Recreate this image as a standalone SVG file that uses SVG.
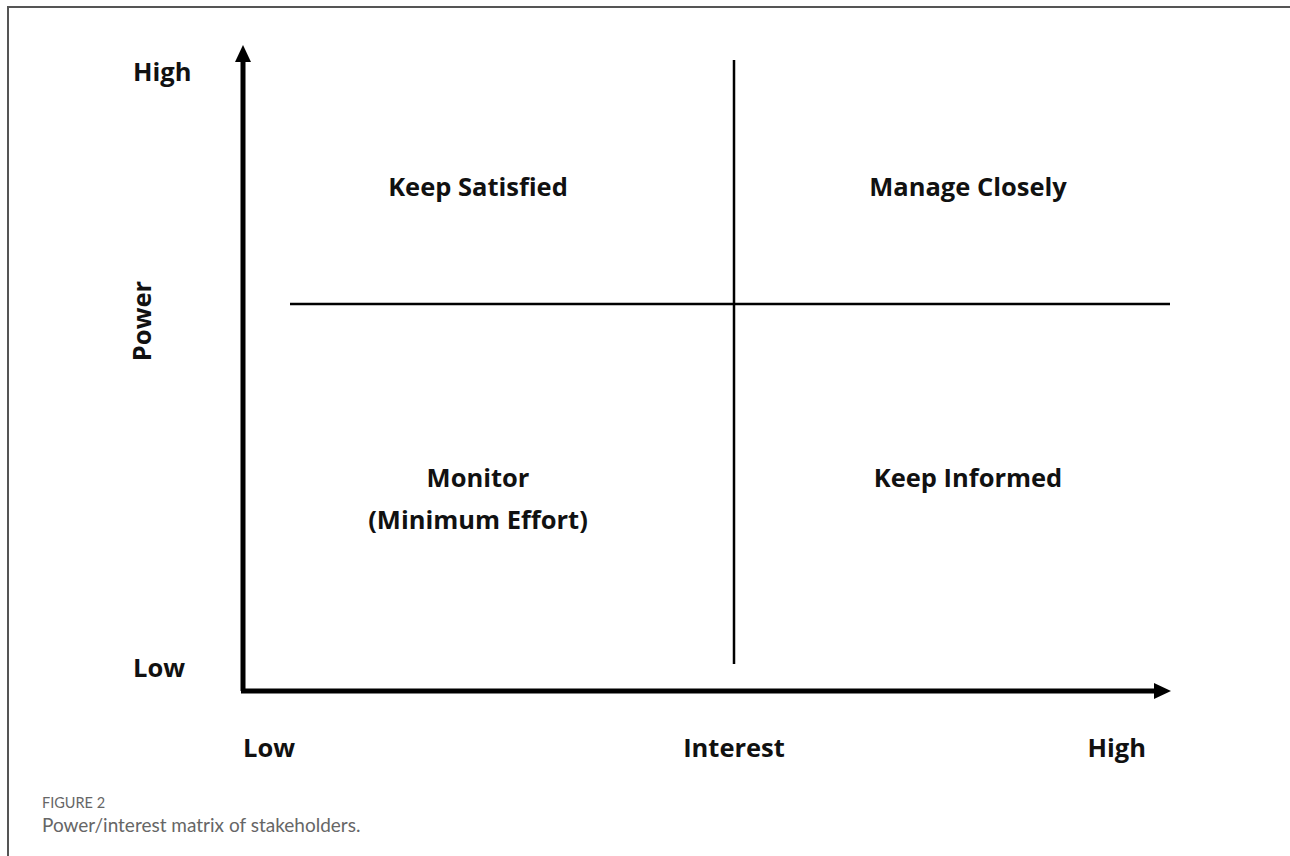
<svg xmlns="http://www.w3.org/2000/svg" width="1290" height="856" viewBox="0 0 1290 856">
<style>
.lbl{font-family:"Open Sans","Noto Sans",sans-serif;font-weight:bold;font-size:25.5px;fill:#111}
.cap1{font-family:"Lato","Open Sans",sans-serif;font-size:14.5px;fill:#666}
.cap2{font-family:"Lato","Open Sans",sans-serif;font-size:19px;fill:#666}
.ax{stroke:#000;stroke-width:5;fill:none}
.div{stroke:#000;stroke-width:2.5;fill:none}
</style>
<defs>
<marker id="ah" markerUnits="userSpaceOnUse" markerWidth="17" markerHeight="17" refX="0" refY="8" orient="auto" viewBox="0 0 17 16">
<path d="M0,0 L17,8 L0,16 Z" fill="#000"/>
</marker>
</defs>
<rect width="1290" height="856" fill="#fff"/>
<g id="frame">
<line x1="8" y1="7" x2="1290" y2="7" stroke="#555" stroke-width="2"/>
<line x1="8" y1="6" x2="8" y2="856" stroke="#555" stroke-width="2"/>
</g>
<g id="connectors">
<line class="ax" x1="243" y1="691" x2="243" y2="62" marker-end="url(#ah)"/>
<line class="ax" x1="241" y1="691" x2="1154" y2="691" marker-end="url(#ah)"/>
<line class="div" x1="734" y1="60" x2="734" y2="664"/>
<line class="div" x1="290" y1="304" x2="1170" y2="304"/>
</g>
<g id="y-high"><text class="lbl" x="133" y="81">High</text></g>
<g id="y-low"><text class="lbl" x="133" y="677">Low</text></g>
<g id="y-title"><text class="lbl" transform="translate(151,321) rotate(-90)" text-anchor="middle">Power</text></g>
<g id="x-low"><text class="lbl" x="243" y="757">Low</text></g>
<g id="x-title"><text class="lbl" x="734" y="757" text-anchor="middle">Interest</text></g>
<g id="x-high"><text class="lbl" x="1146" y="757" text-anchor="end">High</text></g>
<g id="q-keep-satisfied"><text class="lbl" x="478" y="196" text-anchor="middle">Keep Satisfied</text></g>
<g id="q-manage-closely"><text class="lbl" x="968" y="196" text-anchor="middle">Manage Closely</text></g>
<g id="q-monitor"><text class="lbl" x="478" y="487" text-anchor="middle">Monitor</text><text class="lbl" x="478" y="529" text-anchor="middle">(Minimum Effort)</text></g>
<g id="q-keep-informed"><text class="lbl" x="968" y="487" text-anchor="middle">Keep Informed</text></g>
<g id="caption">
<text class="cap1" x="42" y="808">FIGURE 2</text>
<text class="cap2" x="42" y="832">Power/interest matrix of stakeholders.</text>
</g>
</svg>
